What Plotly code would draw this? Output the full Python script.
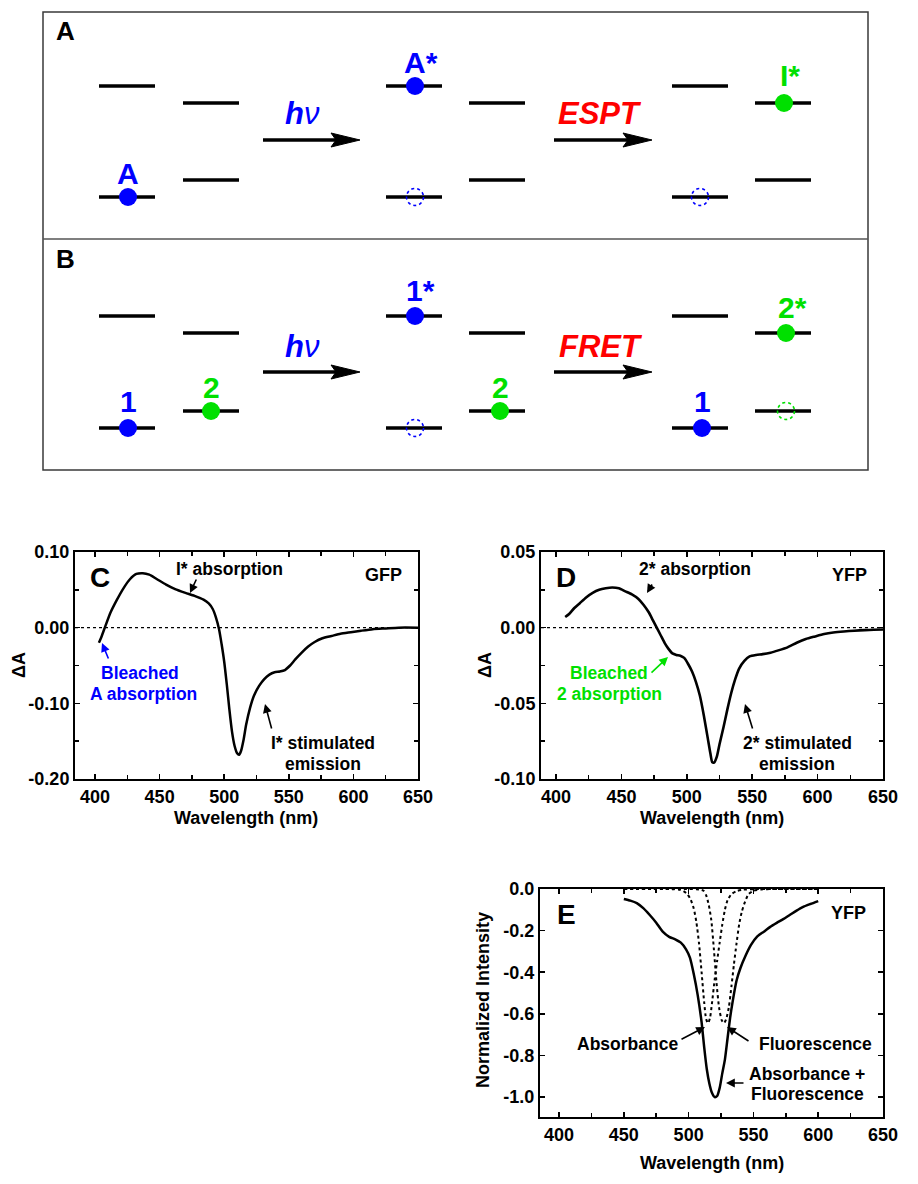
import plotly.graph_objects as go

W, H = 918, 1184
FONT = "Arial, 'Liberation Sans', Helvetica, sans-serif"
BLUE, GREEN, RED = "#0000FF", "#00E000", "#FF0000"

# ---------------- data: panel C (GFP transient absorption) ----------------
gfp_wl = [403, 405, 408, 412, 417, 422, 427, 432, 437, 442, 448, 455, 462, 470, 477,
          484, 488, 491, 493.5, 496, 498, 500, 502, 504, 506, 508, 510, 511.5, 513, 515,
          517, 520, 523, 527, 531, 535, 539, 543, 547, 551, 555, 560, 565, 570, 576,
          583, 590, 598, 606, 615, 625, 635, 650]
gfp_dA = [-0.020, -0.012, 0.002, 0.020, 0.037, 0.052, 0.064, 0.071, 0.072, 0.070, 0.064,
          0.057, 0.051, 0.046, 0.042, 0.037, 0.032, 0.025, 0.014, -0.002, -0.022, -0.045,
          -0.075, -0.108, -0.137, -0.156, -0.166, -0.168, -0.163, -0.148, -0.128, -0.106,
          -0.090, -0.077, -0.068, -0.062, -0.059, -0.058, -0.056, -0.050, -0.042, -0.033,
          -0.025, -0.019, -0.014, -0.011, -0.008, -0.006, -0.004, -0.002, -0.001, 0.000, 0.000]

# ---------------- data: panel D (YFP transient absorption) ----------------
yfp_wl = [407, 410, 414, 418, 423, 428, 433, 438, 443, 448, 453, 458, 463, 467, 471, 474,
          477, 480, 483, 486, 489, 492, 495, 498, 501, 504, 507, 510, 513, 516, 518, 519.5,
          521, 523, 525, 528, 531, 534, 537, 540, 544, 548, 553, 558, 564, 570, 577, 584,
          591, 598, 605, 612, 620, 628, 636, 643, 650]
yfp_dA = [0.007, 0.009, 0.013, 0.016, 0.020, 0.023, 0.025, 0.026, 0.0265, 0.026, 0.024,
          0.022, 0.019, 0.015, 0.010, 0.005, 0.000, -0.005, -0.010, -0.014, -0.017, -0.018,
          -0.0185, -0.020, -0.024, -0.029, -0.036, -0.045, -0.058, -0.073, -0.083, -0.089,
          -0.089, -0.085, -0.077, -0.066, -0.054, -0.043, -0.034, -0.027, -0.022, -0.019,
          -0.018, -0.0175, -0.0165, -0.015, -0.013, -0.010, -0.0075, -0.0058, -0.0042,
          -0.0032, -0.0025, -0.0020, -0.0016, -0.0014, -0.0012]

# ---------------- data: panel E (YFP normalized spectra) ----------------
sum_wl = [450, 455, 460, 465, 470, 475, 480, 485, 490, 494, 498, 501, 504, 507, 510, 512,
          514, 516, 518, 520, 522, 524, 526, 528, 530, 532, 534, 537, 540, 544, 548, 553,
          558, 563, 568, 573, 578, 583, 588, 594, 600]
sum_int = [-0.048, -0.056, -0.068, -0.092, -0.125, -0.162, -0.205, -0.230, -0.243, -0.258,
           -0.290, -0.330, -0.410, -0.510, -0.640, -0.760, -0.865, -0.935, -0.980, -1.000,
           -0.995, -0.955, -0.885, -0.820, -0.720, -0.620, -0.540, -0.440, -0.380, -0.320,
           -0.270, -0.228, -0.205, -0.182, -0.163, -0.145, -0.125, -0.105, -0.087, -0.072, -0.058]

abs_wl = [450, 460, 470, 480, 488, 493, 496, 499, 501.5, 504, 506, 508, 510, 512, 513.5, 515,
          516.5, 518, 520, 522, 524, 526, 528, 530, 533, 537, 542, 550, 560, 575, 600]
abs_int = [0, 0, 0, 0, -0.001, -0.004, -0.010, -0.025, -0.050, -0.095, -0.160, -0.260,
           -0.400, -0.545, -0.625, -0.645, -0.620, -0.550, -0.440, -0.345, -0.255, -0.170,
           -0.100, -0.055, -0.025, -0.010, -0.003, -0.001, 0, 0, 0]

flu_wl = [450, 480, 500, 506, 509, 511.5, 513.5, 515.5, 517.5, 519.5, 521.5, 523.5, 525.5,
          527.3, 529, 531, 533, 535, 537, 539, 541, 543, 546, 550, 556, 565, 580, 600]
flu_int = [0, 0, 0, -0.001, -0.003, -0.008, -0.030, -0.075, -0.150, -0.290, -0.450, -0.570,
           -0.630, -0.645, -0.625, -0.570, -0.470, -0.360, -0.260, -0.170, -0.110, -0.070,
           -0.027, -0.008, -0.002, 0, 0, 0]

# ---------------- ticks ----------------
x_ticks = [400, 450, 500, 550, 600, 650]
c_yticks = [0.10, 0.00, -0.10, -0.20]
c_yticktext = ["0.10", "0.00", "-0.10", "-0.20"]
d_yticks = [0.05, 0.00, -0.05, -0.10]
d_yticktext = ["0.05", "0.00", "-0.05", "-0.10"]
e_yticks = [0.0, -0.2, -0.4, -0.6, -0.8, -1.0]
e_yticktext = ["0.0", "-0.2", "-0.4", "-0.6", "-0.8", "-1.0"]

# ---------------- schematic (panels A and B), pixel units ----------------
level_left = [99, 183, 386, 469, 672, 755]
level_len = 56
a_upper = [86, 103, 86, 103, 86, 103]
a_lower = [197, 180, 197, 180, 197, 180]
b_upper = [316, 333, 316, 333, 316, 333]
b_lower = [428, 411, 428, 411, 428, 411]

ball_x = [128, 415, 784, 128, 211, 415, 500, 702, 786]
ball_y = [197, 86, 103, 428, 411, 316, 411, 428, 333]
ball_c = [BLUE, BLUE, GREEN, BLUE, GREEN, BLUE, GREEN, BLUE, GREEN]

hole_x = [415, 700, 415, 786]
hole_y = [197, 197, 428, 411]
hole_c = [BLUE, BLUE, BLUE, GREEN]

label_txt = ["A", "A*", "I*", "1", "2", "1*", "2", "1", "2*"]
label_x = [128, 421, 790, 128, 211, 420, 500, 702, 792]
label_y = [173, 63, 75, 402, 387, 290, 387, 402, 307]
label_c = [BLUE, BLUE, GREEN, BLUE, GREEN, BLUE, GREEN, BLUE, GREEN]

arrow_x0 = [263, 554, 263, 554]
arrow_x1 = [360, 652, 360, 652]
arrow_y = [140, 140, 372, 372]
arrow_lbl = ["<b><i>h</i></b><i>ν</i>", "<b><i>ESPT</i></b>", "<b><i>h</i></b><i>ν</i>", "<b><i>FRET</i></b>"]
arrow_lbl_x = [302, 600, 302, 601]
arrow_lbl_c = [BLUE, RED, BLUE, RED]

fig = go.Figure()

# ---- spectra ----
fig.add_trace(go.Scatter(x=gfp_wl, y=gfp_dA, mode="lines", line=dict(color="black", width=2.5, shape="spline", smoothing=0.6),
                         xaxis="x", yaxis="y", showlegend=False))
fig.add_trace(go.Scatter(x=yfp_wl, y=yfp_dA, mode="lines", line=dict(color="black", width=2.6, shape="spline", smoothing=0.6),
                         xaxis="x2", yaxis="y2", showlegend=False))
fig.add_trace(go.Scatter(x=abs_wl, y=abs_int, mode="lines", line=dict(color="black", width=2, dash="dot", shape="spline", smoothing=0.6),
                         xaxis="x3", yaxis="y3", showlegend=False))
fig.add_trace(go.Scatter(x=flu_wl, y=flu_int, mode="lines", line=dict(color="black", width=2, dash="dot", shape="spline", smoothing=0.6),
                         xaxis="x3", yaxis="y3", showlegend=False))
fig.add_trace(go.Scatter(x=sum_wl, y=sum_int, mode="lines", line=dict(color="black", width=2.5, shape="spline", smoothing=0.6),
                         xaxis="x3", yaxis="y3", showlegend=False))

# ---- schematic levels ----
lx, ly = [], []
for ys in (a_upper, a_lower, b_upper, b_lower):
    for x0, yv in zip(level_left, ys):
        lx += [x0, x0 + level_len, None]
        ly += [yv, yv, None]
fig.add_trace(go.Scatter(x=lx, y=ly, mode="lines", line=dict(color="black", width=3.5),
                         xaxis="x4", yaxis="y4", showlegend=False))
fig.add_trace(go.Scatter(x=ball_x, y=ball_y, mode="markers",
                         marker=dict(color=ball_c, size=18, line=dict(width=0)),
                         xaxis="x4", yaxis="y4", showlegend=False))

shapes = []
# box around A and B
shapes.append(dict(type="rect", xref="x4", yref="y4", x0=43, x1=868, y0=12, y1=470,
                   line=dict(color="#3a3a3a", width=1.5)))
shapes.append(dict(type="line", xref="x4", yref="y4", x0=43, x1=868, y0=239, y1=239,
                   line=dict(color="#555555", width=1.5)))
for cx, cy, cc in zip(hole_x, hole_y, hole_c):
    shapes.append(dict(type="circle", xref="x4", yref="y4", x0=cx - 8.5, x1=cx + 8.5,
                       y0=cy - 8.5, y1=cy + 8.5, line=dict(color=cc, width=1.6, dash="dot")))
for x0, x1, yv in zip(arrow_x0, arrow_x1, arrow_y):
    shapes.append(dict(type="line", xref="x4", yref="y4", x0=x0, x1=x1 - 24, y0=yv, y1=yv,
                       line=dict(color="black", width=3.5)))
    shapes.append(dict(type="path", xref="x4", yref="y4",
                       path=f"M {x1-29},{yv-7} L {x1},{yv} L {x1-29},{yv+7} L {x1-24},{yv} Z",
                       fillcolor="black", line=dict(color="black", width=1)))
# dotted zero lines in C and D
for xr, yr in (("x", "y"), ("x2", "y2")):
    shapes.append(dict(type="line", xref=f"{xr} domain", yref=yr, x0=0, x1=1, y0=0, y1=0,
                       line=dict(color="black", width=1.2, dash="dot")))
fig.update_layout(shapes=shapes)


def P(x, y):
    return x / W, 1 - y / H


def txt(x, y, s, size=17.5, color="black", angle=0):
    px, py = P(x, y)
    fig.add_annotation(x=px, y=py, xref="paper", yref="paper", text=s, showarrow=False,
                       font=dict(family=FONT, size=size, color=color), textangle=angle,
                       xanchor="center", yanchor="middle")


def arr(tipx, tipy, ax, ay, color="black"):
    px, py = P(tipx, tipy)
    fig.add_annotation(x=px, y=py, xref="paper", yref="paper", text="", showarrow=True,
                       ax=ax, ay=ay, arrowhead=2, arrowsize=1.1, arrowwidth=1.6,
                       arrowcolor=color, standoff=0)


# schematic text
txt(65, 31, "<b>A</b>", 26)
txt(65, 259, "<b>B</b>", 26)
for s, x, y, c in zip(label_txt, label_x, label_y, label_c):
    txt(x, y, f"<b>{s}</b>", 30, c)
for lxp, yv, s, c in zip(arrow_lbl_x, arrow_y, arrow_lbl, arrow_lbl_c):
    txt(lxp, yv - 26, s, 31, c)

# panel C
txt(100, 577, "<b>C</b>", 28)
txt(229, 569, "<b>I* absorption</b>")
arr(190, 593, 7, -15)
txt(383, 575, "<b>GFP</b>", 18)
txt(140, 673, "<b>Bleached</b>", color=BLUE)
txt(143, 694, "<b>A absorption</b>", color=BLUE)
arr(102, 643, 7, 17, BLUE)
txt(323, 743, "<b>I* stimulated</b>")
txt(323, 764, "<b>emission</b>")
arr(265, 704, 7, 26)
txt(19, 665, "<b>ΔA</b>", 18, angle=-90)
txt(246, 818, "<b>Wavelength (nm)</b>", 18)

# panel D
txt(566, 577, "<b>D</b>", 28)
txt(695, 569, "<b>2* absorption</b>")
arr(647, 593, 6, -10)
txt(849, 575, "<b>YFP</b>", 18)
txt(609, 673, "<b>Bleached</b>", color=GREEN)
txt(609, 694, "<b>2 absorption</b>", color=GREEN)
arr(668, 657, -18, 17, GREEN)
txt(797, 743, "<b>2* stimulated</b>")
txt(797, 764, "<b>emission</b>")
arr(745, 704, 8, 26)
txt(485, 665, "<b>ΔA</b>", 18, angle=-90)
txt(712, 818, "<b>Wavelength (nm)</b>", 18)

# panel E
txt(566, 914, "<b>E</b>", 28)
txt(848, 913, "<b>YFP</b>", 18)
txt(627, 1044, "<b>Absorbance</b>")
arr(705, 1027, -25, 13)
txt(815, 1044, "<b>Fluorescence</b>")
arr(727, 1027, 23, 15)
txt(807, 1074, "<b>Absorbance +</b>")
txt(807, 1094, "<b>Fluorescence</b>")
arr(726, 1083, 19, 0)
txt(483, 1000, "<b>Normalized Intensity</b>", 18, angle=-90)
txt(712, 1163, "<b>Wavelength (nm)</b>", 18)


def axis(domain, rng, tickvals, ticktext=None, minor_dtick=None):
    d = dict(domain=domain, range=rng, showline=True, linecolor="black", linewidth=2,
             mirror="ticks", ticks="inside", ticklen=5, tickwidth=1.5, tickcolor="black",
             showgrid=False, zeroline=False, tickvals=tickvals, automargin=False,
             tickfont=dict(family=FONT, size=18, color="black", weight="bold"),
             fixedrange=True)
    if ticktext is not None:
        d["ticktext"] = ticktext
    if minor_dtick is not None:
        d["minor"] = dict(ticks="inside", ticklen=4, tickwidth=1.5, tickcolor="black",
                          dtick=minor_dtick, tick0=0, showgrid=False)
    return d


def xd(a, b):
    return [a / W, b / W]


def yd(top, bot):
    return [1 - bot / H, 1 - top / H]


fig.update_layout(
    width=W, height=H, autosize=False,
    margin=dict(l=0, r=0, t=0, b=0, pad=0),
    paper_bgcolor="white", plot_bgcolor="rgba(0,0,0,0)",
    showlegend=False,
    font=dict(family=FONT, color="black"),
    xaxis=dict(axis(xd(75, 418), [384.5, 650], x_ticks, minor_dtick=25), anchor="y"),
    yaxis=dict(axis(yd(552, 779), [-0.20, 0.10], c_yticks, c_yticktext, minor_dtick=0.05), anchor="x"),
    xaxis2=dict(axis(xd(541, 883), [388.5, 650], x_ticks, minor_dtick=25), anchor="y2"),
    yaxis2=dict(axis(yd(552, 779), [-0.10, 0.05], d_yticks, d_yticktext, minor_dtick=0.025), anchor="x2"),
    xaxis3=dict(axis(xd(540, 883), [385.3, 650], x_ticks, minor_dtick=25), anchor="y3"),
    yaxis3=dict(axis(yd(889, 1117), [-1.096, 0.0], e_yticks, e_yticktext), anchor="x3"),
    xaxis4=dict(domain=[0, 1], range=[0, W], visible=False, fixedrange=True, anchor="y4"),
    yaxis4=dict(domain=[0, 1], range=[H, 0], visible=False, fixedrange=True, anchor="x4"),
)

fig.write_html("out.html",
               config={"displayModeBar": False, "staticPlot": True},
               post_script="document.body.style.margin='0';document.body.style.padding='0';"
                           "document.documentElement.style.overflow='hidden';")
